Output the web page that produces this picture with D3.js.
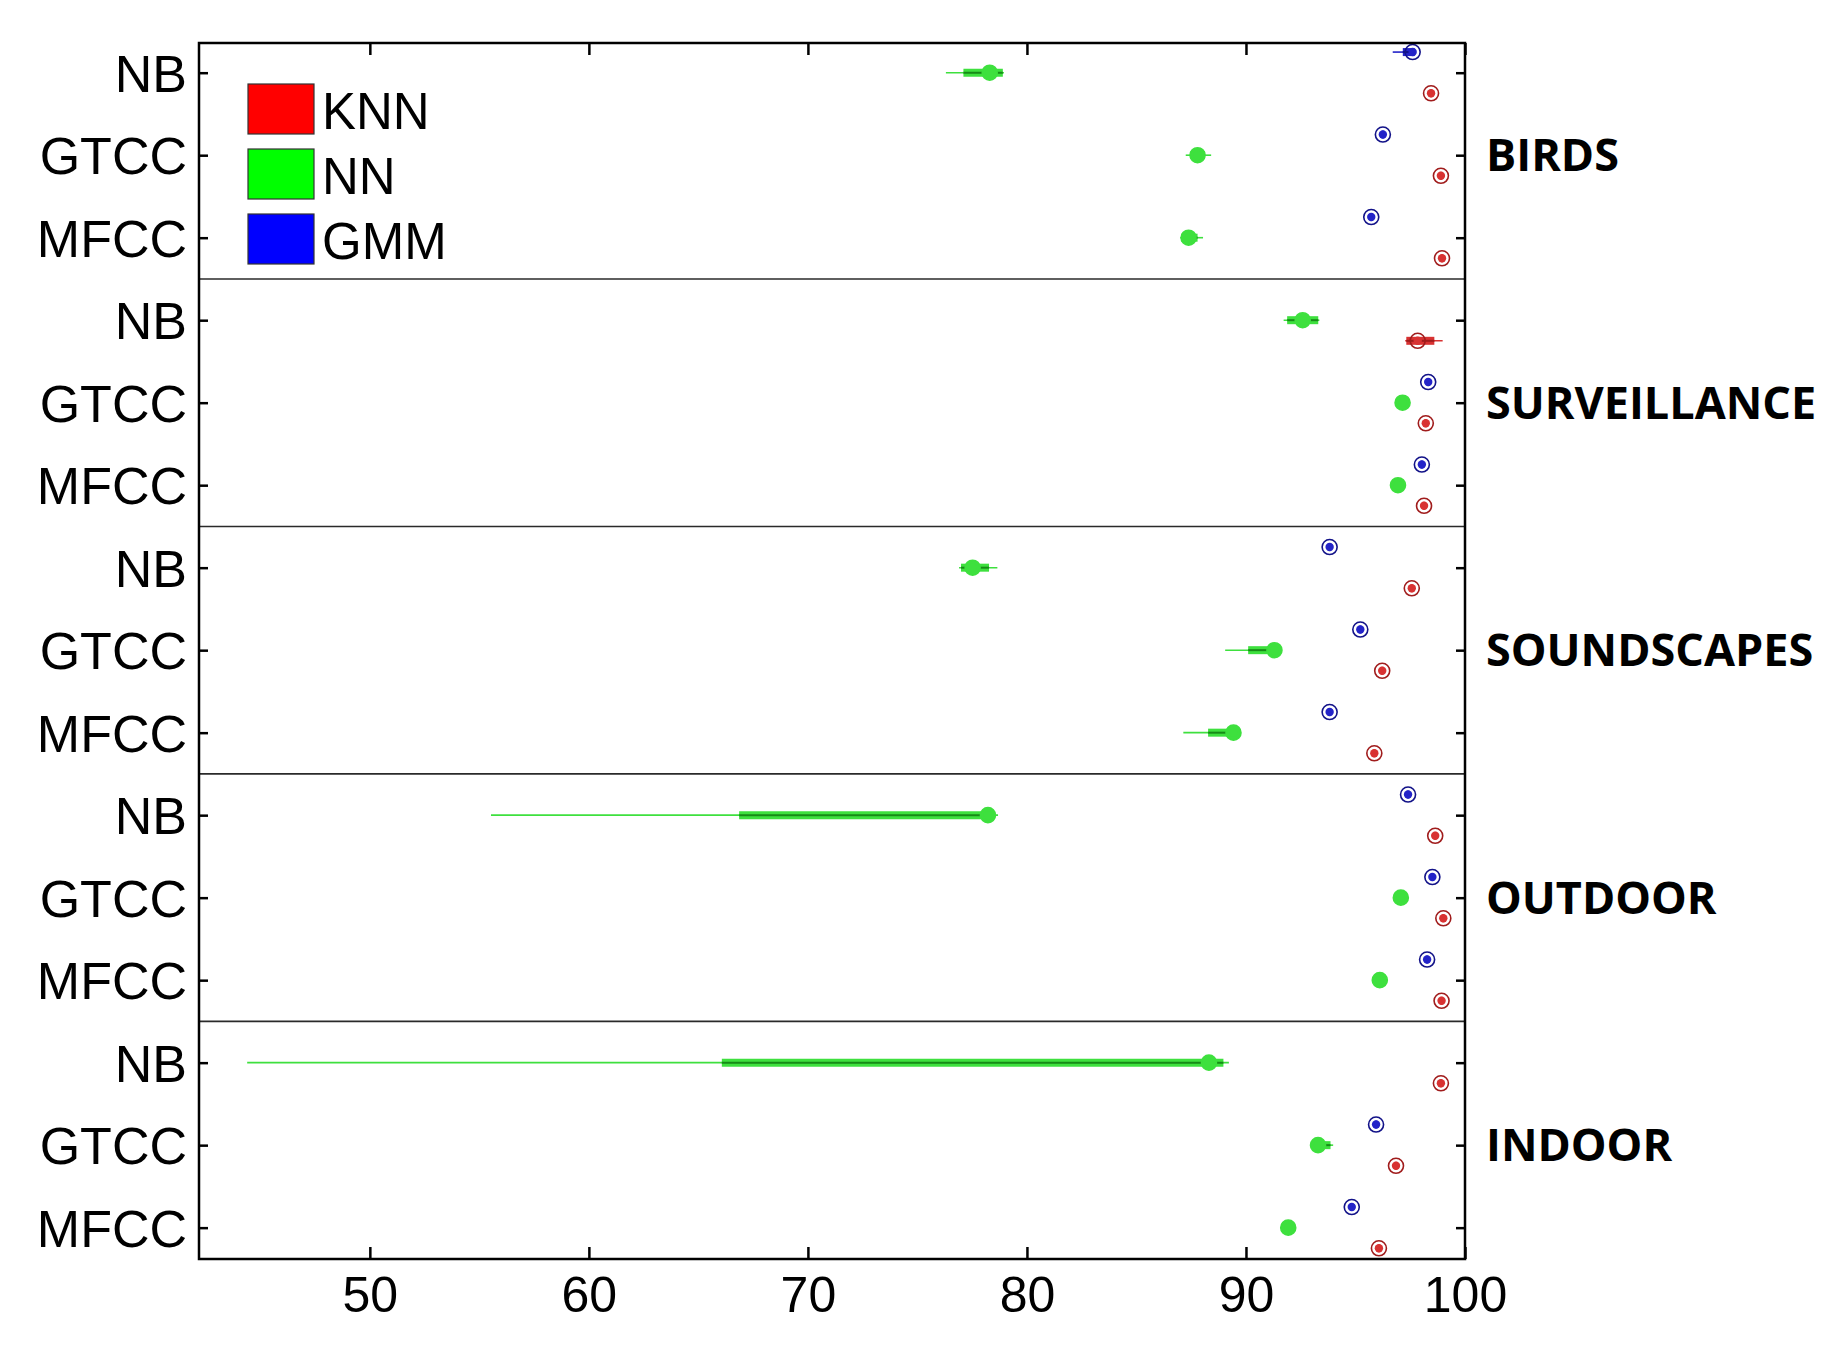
<!DOCTYPE html>
<html>
<head>
<meta charset="utf-8">
<script src="https://cdnjs.cloudflare.com/ajax/libs/d3/7.8.5/d3.min.js"></script>
<style>
  body { margin: 0; background: #fff; }
  svg text { font-family: "Liberation Sans", Arial, sans-serif; }
  .grp { font-family: "Open Sans", sans-serif; font-weight: 700; }
</style>
</head>
<body>
<div id="chart"></div>
<script>
// datasets (one panel each) and feature rows inside a panel
var groups = ["BIRDS", "SURVEILLANCE", "SOUNDSCAPES", "OUTDOOR", "INDOOR"];
var features = ["NB", "GTCC", "MFCC"];
var classifiers = ["KNN", "NN", "GMM"];
var xticks = [50, 60, 70, 80, 90, 100];

// [whisker low, q1, median, q3, whisker high] per row, rows = group x feature
var knn = [
  [98.3, 98.4, 98.45, 98.5, 98.6],
  [98.8, 98.85, 98.9, 98.95, 99.0],
  [98.85, 98.9, 98.95, 99.0, 99.05],
  [97.27, 97.32, 97.84, 98.6, 98.98],
  [98.1, 98.15, 98.21, 98.26, 98.3],
  [98.03, 98.08, 98.13, 98.18, 98.23],
  [97.47, 97.52, 97.57, 97.62, 97.67],
  [96.12, 96.17, 96.22, 96.27, 96.32],
  [95.76, 95.81, 95.86, 95.91, 95.96],
  [98.54, 98.59, 98.64, 98.69, 98.74],
  [98.91, 98.96, 99.01, 99.06, 99.1],
  [98.83, 98.88, 98.93, 98.98, 99.03],
  [98.8, 98.85, 98.9, 98.95, 99.0],
  [96.75, 96.8, 96.85, 96.9, 96.95],
  [95.97, 96.02, 96.07, 96.12, 96.17]
];
var nn = [
  [76.3, 77.1, 78.3, 78.9, 78.95],
  [87.25, 87.46, 87.79, 88.13, 88.41],
  [87.0, 87.05, 87.38, 87.79, 88.04],
  [91.72, 91.88, 92.59, 93.3, 93.35],
  [97.05, 97.1, 97.15, 97.2, 97.25],
  [96.84, 96.89, 96.94, 96.99, 97.04],
  [76.9, 76.99, 77.52, 78.27, 78.65],
  [89.05, 90.1, 91.3, 91.4, 91.46],
  [87.14, 88.27, 89.43, 89.72, 89.75],
  [55.53, 66.86, 78.22, 78.51, 78.68],
  [96.97, 97.02, 97.07, 97.12, 97.17],
  [96.01, 96.06, 96.11, 96.16, 96.21],
  [44.4, 66.07, 88.31, 88.97, 89.22],
  [92.95, 93.0, 93.29, 93.86, 93.98],
  [91.59, 91.7, 91.93, 92.15, 92.25]
];
var gmm = [
  [96.7, 97.16, 97.61, 97.7, 97.75],
  [96.15, 96.2, 96.25, 96.3, 96.35],
  [95.62, 95.67, 95.72, 95.77, 95.82],
  null,
  [98.22, 98.27, 98.32, 98.37, 98.42],
  [97.93, 97.98, 98.03, 98.08, 98.13],
  [93.72, 93.77, 93.82, 93.87, 93.92],
  [95.12, 95.17, 95.22, 95.27, 95.32],
  [93.72, 93.77, 93.82, 93.87, 93.92],
  [97.3, 97.35, 97.4, 97.45, 97.5],
  [98.41, 98.46, 98.51, 98.56, 98.61],
  [98.17, 98.22, 98.27, 98.32, 98.37],
  null,
  [95.84, 95.89, 95.94, 95.99, 96.04],
  [94.73, 94.78, 94.83, 94.88, 94.93]
];

function draw() {
  var w = 1835;
  var h = 1346;

  // colours: legend swatch, light stroke, dark stripe / outline
  var styles = {
    KNN: { swatch: "#ff0000", light: "#d83232", dark: "#a01c1c", off: 0.25 },
    NN:  { swatch: "#00ff00", light: "#3ee03e", dark: "#168a16", off: 0 },
    GMM: { swatch: "#0000ff", light: "#2323c8", dark: "#121288", off: -0.25 }
  };
  var series = { KNN: knn, NN: nn, GMM: gmm };

  var x = d3.scaleLinear().domain([42.2, 100]).range([199, 1465]);
  var y = d3.scaleLinear().domain([0.64, 15.38]).range([43, 1259]);

  var svg = d3.select("#chart")
              .append("svg")
              .attr("width", w)
              .attr("height", h);

  // flatten into rows the library can bind
  var rows = [];
  classifiers.forEach(function(c) {
    series[c].forEach(function(s, i) {
      if (s) rows.push({ c: c, pos: i + 1, s: s });
    });
  });

  // panel separators
  svg.selectAll("line.sep")
     .data(d3.range(1, groups.length))
     .enter()
     .append("line")
     .attr("class", "sep")
     .attr("x1", x.range()[0])
     .attr("x2", x.range()[1])
     .attr("y1", function(d) { return y(d * 3 + 0.5); })
     .attr("y2", function(d) { return y(d * 3 + 0.5); })
     .attr("stroke", "#2a2a2a")
     .attr("stroke-width", 1.6);

  var marks = svg.append("g");

  // whiskers
  marks.selectAll("line.wh")
       .data(rows)
       .enter()
       .append("line")
       .attr("x1", function(d) { return x(d.s[0]); })
       .attr("x2", function(d) { return x(d.s[4]); })
       .attr("y1", function(d) { return y(d.pos + styles[d.c].off); })
       .attr("y2", function(d) { return y(d.pos + styles[d.c].off); })
       .attr("stroke", function(d) { return styles[d.c].light; })
       .attr("stroke-width", 1.6);

  // boxes drawn as thick lines (compact style)
  marks.selectAll("line.box")
       .data(rows)
       .enter()
       .append("line")
       .attr("x1", function(d) { return x(d.s[1]); })
       .attr("x2", function(d) { return x(d.s[3]); })
       .attr("y1", function(d) { return y(d.pos + styles[d.c].off); })
       .attr("y2", function(d) { return y(d.pos + styles[d.c].off); })
       .attr("stroke", function(d) { return styles[d.c].light; })
       .attr("stroke-width", 8);

  marks.selectAll("line.stripe")
       .data(rows)
       .enter()
       .append("line")
       .attr("x1", function(d) { return x(d.s[1]); })
       .attr("x2", function(d) { return x(d.s[3]); })
       .attr("y1", function(d) { return y(d.pos + styles[d.c].off); })
       .attr("y2", function(d) { return y(d.pos + styles[d.c].off); })
       .attr("stroke", function(d) { return styles[d.c].dark; })
       .attr("stroke-width", 2);

  // median marker: ring with dot
  marks.selectAll("circle.med")
       .data(rows)
       .enter()
       .append("circle")
       .attr("cx", function(d) { return x(d.s[2]); })
       .attr("cy", function(d) { return y(d.pos + styles[d.c].off); })
       .attr("r", 7.5)
       .attr("fill", function(d) { return d.c == "NN" ? styles[d.c].light : "none"; })
       .attr("stroke", function(d) { return d.c == "NN" ? styles[d.c].light : styles[d.c].dark; })
       .attr("stroke-width", 1.6);

  marks.selectAll("circle.dot")
       .data(rows)
       .enter()
       .append("circle")
       .attr("cx", function(d) { return x(d.s[2]); })
       .attr("cy", function(d) { return y(d.pos + styles[d.c].off); })
       .attr("r", 4.2)
       .attr("fill", function(d) { return styles[d.c].light; });

  // axes, ticks pointing inward
  var yticks = d3.range(1, 16);

  var bottom = svg.append("g")
                  .attr("transform", "translate(0," + y.range()[1] + ")")
                  .call(d3.axisBottom(x).tickValues(xticks).tickSizeInner(-12).tickSizeOuter(0).tickPadding(17));
  bottom.selectAll("text")
        .attr("font-size", 50)
        .attr("fill", "#000");

  svg.append("g")
     .attr("transform", "translate(0," + y.range()[0] + ")")
     .call(d3.axisTop(x).tickValues(xticks).tickSizeInner(-12).tickSizeOuter(0).tickFormat(""));

  var left = svg.append("g")
                .attr("transform", "translate(" + x.range()[0] + ",0)")
                .call(d3.axisLeft(y).tickValues(yticks).tickSizeInner(-9).tickSizeOuter(0).tickPadding(12)
                        .tickFormat(function(i) { return features[(i - 1) % 3]; }));
  left.selectAll("text")
      .attr("font-size", 52)
      .attr("dy", "0.36em")
      .attr("fill", "#000");

  svg.append("g")
     .attr("transform", "translate(" + x.range()[1] + ",0)")
     .call(d3.axisRight(y).tickValues(yticks).tickSizeInner(-9).tickSizeOuter(0).tickFormat(""));

  svg.selectAll(".domain").remove();
  svg.selectAll(".tick line")
     .attr("stroke", "#000")
     .attr("stroke-width", 2.5);

  // frame
  svg.append("rect")
     .attr("x", x.range()[0])
     .attr("y", y.range()[0])
     .attr("width", x.range()[1] - x.range()[0])
     .attr("height", y.range()[1] - y.range()[0])
     .attr("fill", "none")
     .attr("stroke", "#000")
     .attr("stroke-width", 2.5);

  // dataset names on the right
  svg.selectAll("text.grp")
     .data(groups)
     .enter()
     .append("text")
     .attr("class", "grp")
     .attr("x", 1486)
     .attr("y", function(d, i) { return y(i * 3 + 2); })
     .attr("dy", "0.36em")
     .attr("font-size", 45)
     .text(function(d) { return d; });

  // legend
  var legend = svg.append("g")
                  .attr("transform", "translate(248,84)");
  var item = legend.selectAll("g")
                   .data(classifiers)
                   .enter()
                   .append("g")
                   .attr("transform", function(d, i) { return "translate(0," + i * 65 + ")"; });
  item.append("rect")
      .attr("width", 66)
      .attr("height", 50)
      .attr("fill", function(d) { return styles[d].swatch; })
      .attr("stroke", "#333")
      .attr("stroke-width", 1.2);
  item.append("text")
      .attr("x", 74)
      .attr("y", 45)
      .attr("font-size", 51)
      .text(function(d) { return d; });
}

window.onload = draw;
</script>
</body>
</html>
